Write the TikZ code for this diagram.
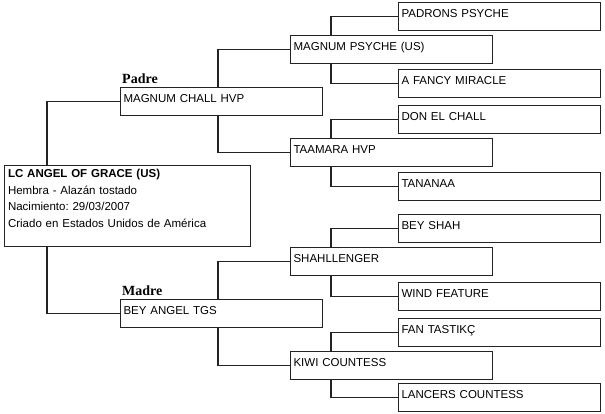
\documentclass[tikz,border=0pt]{standalone}
\usepackage{fontspec}
\setmainfont{Liberation Sans}
\newfontfamily\tagfont{Liberation Serif}
\usepackage{tikz}
\usetikzlibrary{positioning,calc}
\definecolor{edgegray}{RGB}{35,35,35}
\frenchspacing

\begin{document}
\begin{tikzpicture}[x=1pt,y=-1pt,
  horse/.style={draw=edgegray,line width=1.1pt,anchor=north west,inner xsep=3pt,inner ysep=0pt,text width=196pt,align=left,text height=15pt,text depth=13pt,font=\fontsize{11.5}{14}\selectfont},
  tag/.style={anchor=base west,inner sep=0pt,font=\tagfont\bfseries\fontsize{14}{16}\selectfont},
  link/.style={draw=edgegray,line width=1.1pt}]
\useasboundingbox (0,0) rectangle (605,413);
% the foal
\node[horse,text width=239pt,inner xsep=3.5pt,text height=12pt,text depth=69pt,font=\fontsize{11.5}{16.5}\selectfont] (foal) at (4,165) {\textbf{LC ANGEL OF GRACE (US)}\\Hembra - Alazán tostado\\Nacimiento: 29/03/2007\\Criado en Estados Unidos de América};
% parents
\node[horse] (sire) at (120,87) {MAGNUM CHALL HVP};
\node[horse] (dam) at (120,299) {BEY ANGEL TGS};
\node[tag] (siretag) at ([xshift=2pt,yshift=4pt]sire.north west) {Padre};
\node[tag] (damtag) at ([xshift=2pt,yshift=4pt]dam.north west) {Madre};
% grandparents
\node[horse] (ss) at (290,35) {MAGNUM PSYCHE (US)};
\node[horse] (sd) at (290,138) {TAAMARA HVP};
\node[horse] (ds) at (290,247) {SHAHLLENGER};
\node[horse] (dd) at (290,351) {KIWI COUNTESS};
% great-grandparents
\node[horse] (sss) at (398,2) {PADRONS PSYCHE};
\node[horse] (ssd) at (398,69) {A FANCY MIRACLE};
\node[horse] (sds) at (398,105) {DON EL CHALL};
\node[horse] (sdd) at (398,172) {TANANAA};
\node[horse] (dss) at (398,214) {BEY SHAH};
\node[horse] (dsd) at (398,282) {WIND FEATURE};
\node[horse] (dds) at (398,318) {FAN TASTIKÇ};
\node[horse] (ddd) at (398,383) {LANCERS COUNTESS};
% lines
\draw[link] ([xshift=43pt]foal.north west) |- (sire.west);
\draw[link] ([xshift=43pt]foal.south west) |- (dam.west);
\draw[link] ([xshift=98pt]sire.north west) |- (ss.west);
\draw[link] ([xshift=98pt]sire.south west) |- (sd.west);
\draw[link] ([xshift=98pt]dam.north west) |- (ds.west);
\draw[link] ([xshift=98pt]dam.south west) |- (dd.west);
\draw[link] ([xshift=41pt]ss.north west) |- (sss.west);
\draw[link] ([xshift=41pt]ss.south west) |- (ssd.west);
\draw[link] ([xshift=41pt]sd.north west) |- (sds.west);
\draw[link] ([xshift=41pt]sd.south west) |- (sdd.west);
\draw[link] ([xshift=41pt]ds.north west) |- (dss.west);
\draw[link] ([xshift=41pt]ds.south west) |- (dsd.west);
\draw[link] ([xshift=41pt]dd.north west) |- (dds.west);
\draw[link] ([xshift=41pt]dd.south west) |- (ddd.west);
\end{tikzpicture}
\end{document}
